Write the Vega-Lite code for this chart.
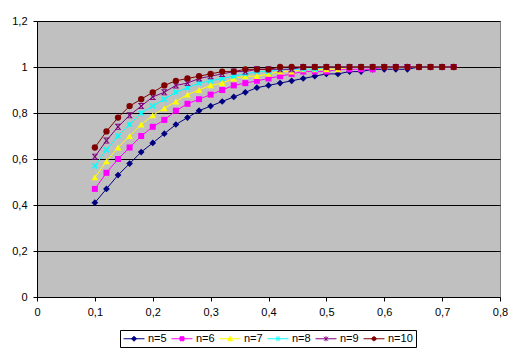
{
  "$schema": "https://vega.github.io/schema/vega-lite/v6.json",
  "width": 463,
  "height": 276,
  "autosize": {"type": "none"},
  "padding": {"left": 37, "top": 21, "right": 21, "bottom": 59},
  "background": "white",
  "config": {
    "font": "Liberation Sans",
    "view": {"fill": "#C0C0C0", "stroke": "#808080", "strokeWidth": 1},
    "axis": {
      "domainColor": "black",
      "tickColor": "black",
      "labelColor": "black",
      "labelFont": "Liberation Sans",
      "labelFontSize": 11,
      "tickSize": 4,
      "title": null,
      "labelFlush": false,
      "labelOverlap": false
    },
    "point": {"filled": true, "opacity": 1, "size": 40}
  },
  "data": {
    "values": [
      {"x":0.10,"n":"n=5","y":0.41},{"x":0.10,"n":"n=6","y":0.47},{"x":0.10,"n":"n=7","y":0.52},{"x":0.10,"n":"n=8","y":0.57},{"x":0.10,"n":"n=9","y":0.61},{"x":0.10,"n":"n=10","y":0.65},
      {"x":0.12,"n":"n=5","y":0.47},{"x":0.12,"n":"n=6","y":0.54},{"x":0.12,"n":"n=7","y":0.59},{"x":0.12,"n":"n=8","y":0.64},{"x":0.12,"n":"n=9","y":0.68},{"x":0.12,"n":"n=10","y":0.72},
      {"x":0.14,"n":"n=5","y":0.53},{"x":0.14,"n":"n=6","y":0.60},{"x":0.14,"n":"n=7","y":0.65},{"x":0.14,"n":"n=8","y":0.70},{"x":0.14,"n":"n=9","y":0.74},{"x":0.14,"n":"n=10","y":0.78},
      {"x":0.16,"n":"n=5","y":0.58},{"x":0.16,"n":"n=6","y":0.65},{"x":0.16,"n":"n=7","y":0.70},{"x":0.16,"n":"n=8","y":0.75},{"x":0.16,"n":"n=9","y":0.79},{"x":0.16,"n":"n=10","y":0.83},
      {"x":0.18,"n":"n=5","y":0.63},{"x":0.18,"n":"n=6","y":0.70},{"x":0.18,"n":"n=7","y":0.75},{"x":0.18,"n":"n=8","y":0.80},{"x":0.18,"n":"n=9","y":0.83},{"x":0.18,"n":"n=10","y":0.86},
      {"x":0.20,"n":"n=5","y":0.67},{"x":0.20,"n":"n=6","y":0.74},{"x":0.20,"n":"n=7","y":0.79},{"x":0.20,"n":"n=8","y":0.83},{"x":0.20,"n":"n=9","y":0.87},{"x":0.20,"n":"n=10","y":0.89},
      {"x":0.22,"n":"n=5","y":0.71},{"x":0.22,"n":"n=6","y":0.77},{"x":0.22,"n":"n=7","y":0.82},{"x":0.22,"n":"n=8","y":0.86},{"x":0.22,"n":"n=9","y":0.89},{"x":0.22,"n":"n=10","y":0.92},
      {"x":0.24,"n":"n=5","y":0.75},{"x":0.24,"n":"n=6","y":0.81},{"x":0.24,"n":"n=7","y":0.85},{"x":0.24,"n":"n=8","y":0.89},{"x":0.24,"n":"n=9","y":0.92},{"x":0.24,"n":"n=10","y":0.94},
      {"x":0.26,"n":"n=5","y":0.78},{"x":0.26,"n":"n=6","y":0.84},{"x":0.26,"n":"n=7","y":0.88},{"x":0.26,"n":"n=8","y":0.91},{"x":0.26,"n":"n=9","y":0.93},{"x":0.26,"n":"n=10","y":0.95},
      {"x":0.28,"n":"n=5","y":0.81},{"x":0.28,"n":"n=6","y":0.86},{"x":0.28,"n":"n=7","y":0.90},{"x":0.28,"n":"n=8","y":0.93},{"x":0.28,"n":"n=9","y":0.95},{"x":0.28,"n":"n=10","y":0.96},
      {"x":0.30,"n":"n=5","y":0.83},{"x":0.30,"n":"n=6","y":0.88},{"x":0.30,"n":"n=7","y":0.92},{"x":0.30,"n":"n=8","y":0.94},{"x":0.30,"n":"n=9","y":0.96},{"x":0.30,"n":"n=10","y":0.97},
      {"x":0.32,"n":"n=5","y":0.85},{"x":0.32,"n":"n=6","y":0.90},{"x":0.32,"n":"n=7","y":0.93},{"x":0.32,"n":"n=8","y":0.95},{"x":0.32,"n":"n=9","y":0.97},{"x":0.32,"n":"n=10","y":0.98},
      {"x":0.34,"n":"n=5","y":0.87},{"x":0.34,"n":"n=6","y":0.92},{"x":0.34,"n":"n=7","y":0.95},{"x":0.34,"n":"n=8","y":0.96},{"x":0.34,"n":"n=9","y":0.98},{"x":0.34,"n":"n=10","y":0.98},
      {"x":0.36,"n":"n=5","y":0.89},{"x":0.36,"n":"n=6","y":0.93},{"x":0.36,"n":"n=7","y":0.96},{"x":0.36,"n":"n=8","y":0.97},{"x":0.36,"n":"n=9","y":0.98},{"x":0.36,"n":"n=10","y":0.99},
      {"x":0.38,"n":"n=5","y":0.91},{"x":0.38,"n":"n=6","y":0.94},{"x":0.38,"n":"n=7","y":0.96},{"x":0.38,"n":"n=8","y":0.98},{"x":0.38,"n":"n=9","y":0.99},{"x":0.38,"n":"n=10","y":0.99},
      {"x":0.40,"n":"n=5","y":0.92},{"x":0.40,"n":"n=6","y":0.95},{"x":0.40,"n":"n=7","y":0.97},{"x":0.40,"n":"n=8","y":0.98},{"x":0.40,"n":"n=9","y":0.99},{"x":0.40,"n":"n=10","y":0.99},
      {"x":0.42,"n":"n=5","y":0.93},{"x":0.42,"n":"n=6","y":0.96},{"x":0.42,"n":"n=7","y":0.98},{"x":0.42,"n":"n=8","y":0.99},{"x":0.42,"n":"n=9","y":0.99},{"x":0.42,"n":"n=10","y":1.0},
      {"x":0.44,"n":"n=5","y":0.94},{"x":0.44,"n":"n=6","y":0.97},{"x":0.44,"n":"n=7","y":0.98},{"x":0.44,"n":"n=8","y":0.99},{"x":0.44,"n":"n=9","y":0.99},{"x":0.44,"n":"n=10","y":1.0},
      {"x":0.46,"n":"n=5","y":0.95},{"x":0.46,"n":"n=6","y":0.98},{"x":0.46,"n":"n=7","y":0.99},{"x":0.46,"n":"n=8","y":0.99},{"x":0.46,"n":"n=9","y":1.0},{"x":0.46,"n":"n=10","y":1.0},
      {"x":0.48,"n":"n=5","y":0.96},{"x":0.48,"n":"n=6","y":0.98},{"x":0.48,"n":"n=7","y":0.99},{"x":0.48,"n":"n=8","y":0.99},{"x":0.48,"n":"n=9","y":1.0},{"x":0.48,"n":"n=10","y":1.0},
      {"x":0.50,"n":"n=5","y":0.97},{"x":0.50,"n":"n=6","y":0.98},{"x":0.50,"n":"n=7","y":0.99},{"x":0.50,"n":"n=8","y":1.0},{"x":0.50,"n":"n=9","y":1.0},{"x":0.50,"n":"n=10","y":1.0},
      {"x":0.52,"n":"n=5","y":0.97},{"x":0.52,"n":"n=6","y":0.99},{"x":0.52,"n":"n=7","y":0.99},{"x":0.52,"n":"n=8","y":1.0},{"x":0.52,"n":"n=9","y":1.0},{"x":0.52,"n":"n=10","y":1.0},
      {"x":0.54,"n":"n=5","y":0.98},{"x":0.54,"n":"n=6","y":0.99},{"x":0.54,"n":"n=7","y":1.0},{"x":0.54,"n":"n=8","y":1.0},{"x":0.54,"n":"n=9","y":1.0},{"x":0.54,"n":"n=10","y":1.0},
      {"x":0.56,"n":"n=5","y":0.98},{"x":0.56,"n":"n=6","y":0.99},{"x":0.56,"n":"n=7","y":1.0},{"x":0.56,"n":"n=8","y":1.0},{"x":0.56,"n":"n=9","y":1.0},{"x":0.56,"n":"n=10","y":1.0},
      {"x":0.58,"n":"n=5","y":0.99},{"x":0.58,"n":"n=6","y":0.99},{"x":0.58,"n":"n=7","y":1.0},{"x":0.58,"n":"n=8","y":1.0},{"x":0.58,"n":"n=9","y":1.0},{"x":0.58,"n":"n=10","y":1.0},
      {"x":0.60,"n":"n=5","y":0.99},{"x":0.60,"n":"n=6","y":1.0},{"x":0.60,"n":"n=7","y":1.0},{"x":0.60,"n":"n=8","y":1.0},{"x":0.60,"n":"n=9","y":1.0},{"x":0.60,"n":"n=10","y":1.0},
      {"x":0.62,"n":"n=5","y":0.99},{"x":0.62,"n":"n=6","y":1.0},{"x":0.62,"n":"n=7","y":1.0},{"x":0.62,"n":"n=8","y":1.0},{"x":0.62,"n":"n=9","y":1.0},{"x":0.62,"n":"n=10","y":1.0},
      {"x":0.64,"n":"n=5","y":0.99},{"x":0.64,"n":"n=6","y":1.0},{"x":0.64,"n":"n=7","y":1.0},{"x":0.64,"n":"n=8","y":1.0},{"x":0.64,"n":"n=9","y":1.0},{"x":0.64,"n":"n=10","y":1.0},
      {"x":0.66,"n":"n=5","y":1.0},{"x":0.66,"n":"n=6","y":1.0},{"x":0.66,"n":"n=7","y":1.0},{"x":0.66,"n":"n=8","y":1.0},{"x":0.66,"n":"n=9","y":1.0},{"x":0.66,"n":"n=10","y":1.0},
      {"x":0.68,"n":"n=5","y":1.0},{"x":0.68,"n":"n=6","y":1.0},{"x":0.68,"n":"n=7","y":1.0},{"x":0.68,"n":"n=8","y":1.0},{"x":0.68,"n":"n=9","y":1.0},{"x":0.68,"n":"n=10","y":1.0},
      {"x":0.70,"n":"n=5","y":1.0},{"x":0.70,"n":"n=6","y":1.0},{"x":0.70,"n":"n=7","y":1.0},{"x":0.70,"n":"n=8","y":1.0},{"x":0.70,"n":"n=9","y":1.0},{"x":0.70,"n":"n=10","y":1.0},
      {"x":0.72,"n":"n=5","y":1.0},{"x":0.72,"n":"n=6","y":1.0},{"x":0.72,"n":"n=7","y":1.0},{"x":0.72,"n":"n=8","y":1.0},{"x":0.72,"n":"n=9","y":1.0},{"x":0.72,"n":"n=10","y":1.0}
    ]
  },
  "encoding": {
    "x": {
      "field": "x",
      "type": "quantitative",
      "scale": {"domain": [0, 0.8], "nice": false, "zero": false},
      "axis": {
        "values": [0, 0.1, 0.2, 0.3, 0.4, 0.5, 0.6, 0.7, 0.8],
        "grid": false,
        "labelPadding": 5,
        "labelExpr": "replace(format(datum.value, '.1~f'), '.', ',')"
      }
    },
    "y": {
      "field": "y",
      "type": "quantitative",
      "scale": {"domain": [0, 1.2], "nice": false},
      "axis": {
        "values": [0, 0.2, 0.4, 0.6, 0.8, 1, 1.2],
        "grid": true,
        "gridColor": "black",
        "gridOpacity": 1,
        "gridWidth": 1,
        "labelPadding": 6,
        "labelExpr": "replace(format(datum.value, '.1~f'), '.', ',')"
      }
    },
    "color": {
      "field": "n",
      "type": "nominal",
      "scale": {
        "domain": ["n=5", "n=6", "n=7", "n=8", "n=9", "n=10"],
        "range": ["#000080", "#FF00FF", "#FFFF00", "#00FFFF", "#800080", "#800000"]
      },
      "legend": null
    }
  },
  "layer": [
    {
      "mark": {"type": "line", "strokeWidth": 1},
      "encoding": {
        "color": {
          "field": "n",
          "type": "nominal",
          "legend": {
            "orient": "none",
            "legendX": 83,
            "legendY": 309,
            "direction": "horizontal",
            "columns": 6,
            "title": null,
            "strokeColor": "black",
            "fillColor": "white",
            "padding": 3,
            "cornerRadius": 0,
            "symbolSize": 100,
            "symbolStrokeWidth": 1,
            "labelFont": "Liberation Sans",
            "labelFontSize": 11,
            "labelColor": "black",
            "labelOffset": 14,
            "columnPadding": 2,
            "encode": {
              "symbols": {
                "update": {
                  "shape": {"signal": "datum.value === 'n=5' ? 'M-1,0H3.2M1.1,-0.5L1.6,0L1.1,0.5L0.6,0Z' : datum.value === 'n=6' ? 'M-1,0H3.2M0.7,-0.4H1.5V0.4H0.7Z' : datum.value === 'n=7' ? 'M-1,0H3.2M1.1,-0.5L1.6,0.4H0.6Z' : datum.value === 'n=8' ? 'M-1,0H3.2M0.9,-0.5V0.5M1.3,-0.5V0.5' : datum.value === 'n=9' ? 'M-1,0H3.2M0.7,-0.4L1.5,0.4M0.7,0.4L1.5,-0.4M1.1,-0.5V0.5' : 'M-1,0H3.2M1.5,0A0.4,0.4 0 1,1 0.7,0A0.4,0.4 0 1,1 1.5,0Z'"},
                  "fill": {"scale": "color", "field": "value"},
                  "stroke": {"scale": "color", "field": "value"},
                  "fillOpacity": {"value": 1},
                  "strokeOpacity": {"value": 1},
                  "strokeWidth": {"value": 1}
                }
              }
            }
          }
        }
      }
    },
    {
      "transform": [{"filter": "datum.n === 'n=5'"}],
      "mark": {"type": "point", "shape": "diamond", "size": 45}
    },
    {
      "transform": [{"filter": "datum.n === 'n=6'"}],
      "mark": {"type": "point", "shape": "square", "size": 36}
    },
    {
      "transform": [{"filter": "datum.n === 'n=7'"}],
      "mark": {"type": "point", "shape": "triangle-up", "size": 45}
    },
    {
      "transform": [{"filter": "datum.n === 'n=8'"}],
      "mark": {"type": "point", "shape": "M-1,-0.6L-0.6,-1L0,-0.4L0.6,-1L1,-0.6L0.4,0L1,0.6L0.6,1L0,0.4L-0.6,1L-1,0.6L-0.4,0Z", "size": 36}
    },
    {
      "transform": [{"filter": "datum.n === 'n=9'"}],
      "mark": {"type": "point", "shape": "M-1,-1H1V-0.7H-1Z M-1,0.7H1V1H-1Z M-0.8,-0.7L-0.4,-0.7L0,-0.3L0.4,-0.7L0.8,-0.7L0.3,0L0.8,0.7L0.4,0.7L0,0.3L-0.4,0.7L-0.8,0.7L-0.3,0Z", "size": 36}
    },
    {
      "transform": [{"filter": "datum.n === 'n=10'"}],
      "mark": {"type": "point", "shape": "circle", "size": 40}
    }
  ]
}
